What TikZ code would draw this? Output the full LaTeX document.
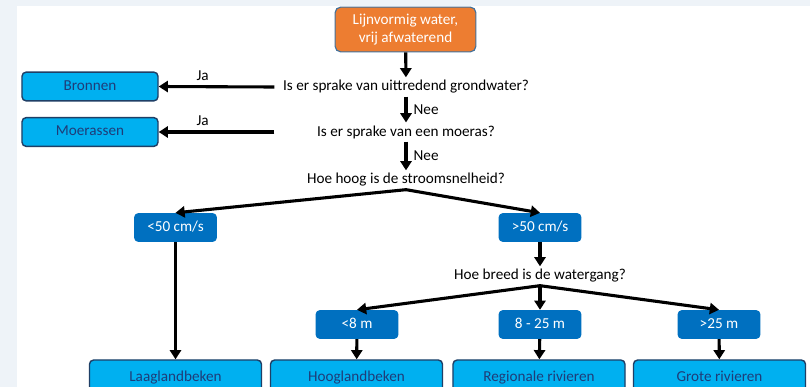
\documentclass[tikz,border=0pt]{standalone}
\usepackage{fontspec}
\setmainfont{Carlito}
\usetikzlibrary{positioning, arrows.meta}

\definecolor{pagegrey}{HTML}{EEF3F8}
\definecolor{startorange}{HTML}{ED7D31}
\definecolor{startline}{HTML}{41719C}
\definecolor{leafblue}{HTML}{00B0F0}
\definecolor{leafline}{HTML}{1F3F66}
\definecolor{leaftext}{HTML}{1F3C78}
\definecolor{choiceblue}{HTML}{0070C0}

\begin{document}
\begin{tikzpicture}[
    x=0.025cm, y=-0.025cm,
    font=\fontsize{10.8}{12.8}\selectfont,
    arrow/.style={-{Triangle[length=2.3mm, width=2.8mm]}, line width=2.2pt},
    question/.style={inner ysep=2pt, inner xsep=6pt},
    startbox/.style={draw=startline, line width=0.8pt, fill=startorange, text=white,
        rounded corners=4pt, align=center, minimum width=3.52cm, minimum height=1.12cm},
    leafbox/.style={draw=leafline, line width=1pt, fill=leafblue, text=leaftext,
        rounded corners=3pt, minimum width=3.4cm, minimum height=0.72cm,
        text height=7.6pt, text depth=2.4pt},
    endbox/.style={leafbox, minimum width=4.3cm, minimum height=0.9cm},
    choicebox/.style={fill=choiceblue, text=white, rounded corners=3pt,
        minimum width=2.07cm, minimum height=0.72cm,
        text height=7.6pt, text depth=2.4pt}
]

    % Page
    \clip (0,0) rectangle (810,387);
    \fill[pagegrey] (0,0) rectangle (810,387);
    \fill[white] (17,6) rectangle (810,387);

    % Start
    \node[startbox] (start) at (405.5,29.5) {Lijnvormig water,\\vrij afwaterend};

    % Questions
    \node[question] (q1) at (406,87) {Is er sprake van uittredend grondwater?};
    \node[question] (q2) at (406,132) {Is er sprake van een moeras?};
    \node[question] (q3) at (406,180) {Hoe hoog is de stroomsnelheid?};
    \node[question] (q4) at (540,276) {Hoe breed is de watergang?};
    \coordinate (q2ja) at (q1.west |- q2.west);

    % Side outcomes
    \node[leafbox] (bronnen) at (90,86.5) {Bronnen};
    \node[leafbox] (moerassen) at (90,132) {Moerassen};

    % Velocity
    \node[choicebox] (slow) at (175.5,227.5) {<50 cm/s};
    \node[choicebox] (fast) at (540,227.5) {>50 cm/s};

    % Width
    \node[choicebox] (narrow) at (357,324.5) {<8 m};
    \node[choicebox] (medium) at (540,324.5) {8 - 25 m};
    \node[choicebox] (wide) at (719,324.5) {>25 m};

    % End types
    \node[endbox] (laagland) at (175.5,378) {Laaglandbeken};
    \node[endbox] (hoogland) at (356.5,378) {Hooglandbeken};
    \node[endbox] (regionaal) at (539,378) {Regionale rivieren};
    \node[endbox] (groot) at (719.5,378) {Grote rivieren};

    % Connectors
    \draw[arrow] (start) -- (q1);
    \draw[arrow] (q1.west) -- node[above=0pt, pos=0.62] {Ja} (bronnen.east);
    \draw[arrow] (q1) -- node[right=1pt] {Nee} (q2);
    \draw[arrow] (q2ja) -- node[above=0pt, pos=0.62] {Ja} (moerassen.east);
    \draw[arrow] (q2) -- node[right=1pt] {Nee} (q3);
    \draw[arrow] (q3.south) -- (slow.north);
    \draw[arrow] (q3.south) -- (fast.north);
    \draw[arrow] (slow) -- (laagland);
    \draw[arrow] (fast) -- (q4);
    \draw[arrow] (q4.south) -- (narrow.north);
    \draw[arrow] (q4.south) -- (medium.north);
    \draw[arrow] (q4.south) -- (wide.north);
    \draw[arrow] (narrow) -- (hoogland);
    \draw[arrow] (medium) -- (regionaal);
    \draw[arrow] (wide) -- (groot);

\end{tikzpicture}
\end{document}
